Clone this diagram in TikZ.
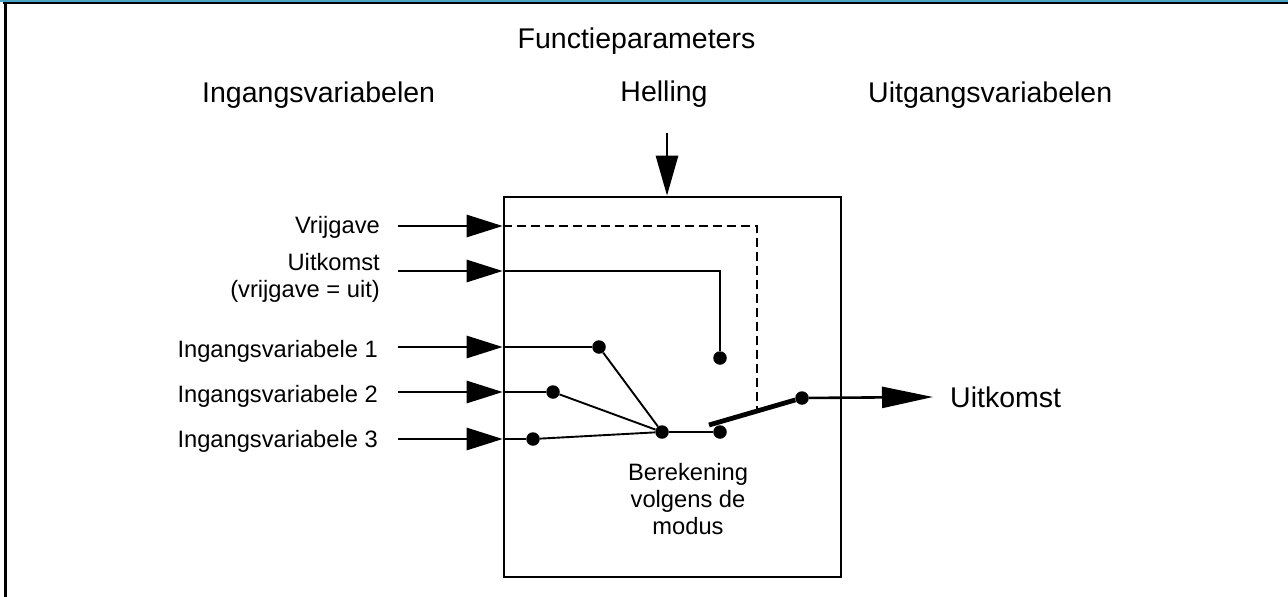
\documentclass[tikz,border=0pt]{standalone}
\usepackage{fontspec}
\setmainfont{Liberation Sans}
\usepackage{xcolor}
\usetikzlibrary{arrows.meta,positioning,calc}
\definecolor{kaderblauw}{RGB}{74,166,196}

\begin{document}
\begin{tikzpicture}[x=1pt,y=-1pt,
    kop/.style={font=\fontsize{28.5}{34}\selectfont, inner sep=0pt},
    lbl/.style={font=\fontsize{23.7}{27}\selectfont, inner sep=0pt},
    lijn/.style={line width=2.6pt},
    dun/.style={line width=1.9pt},
    pijl/.style={-{Triangle[length=36pt,width=22pt]}, line width=2.8pt},
    punt/.style={circle, fill=black, inner sep=0pt, minimum size=13.5pt}]
    \useasboundingbox (0,0) rectangle (1288,597);

    % kader rond de figuur
    \fill[kaderblauw] (0,0) rectangle (1288,2.4);
    \draw[line width=1.8pt] (3,3.3) -- (1288,3.3);
    \draw[line width=3pt] (5,3) -- (5,597);

    % koppen
    \node[kop, anchor=base] (fp) at (636.5,48) {Functieparameters};
    \node[kop, anchor=base] (hel) at (664,101) {Helling};
    \node[kop, anchor=base west] (inv) at (202,102) {Ingangsvariabelen};
    \node[kop, anchor=base west] (uitv) at (868,102) {Uitgangsvariabelen};

    % het blok
    \node[draw, line width=2.6pt, minimum width=337pt, minimum height=380pt, inner sep=0pt] (blok) at (672.5,387) {};
    \node[lbl, align=center, anchor=north] (ber) at (688,463) {Berekening\\volgens de\\modus};

    % helling
    \coordinate (hin) at (667,133);
    \draw[line width=2.8pt, -{Triangle[length=40pt,width=22pt]}] (hin) -- (hin |- blok.north);

    % ingangen
    \node[lbl, anchor=base east] (vrij) at (380,233) {Vrijgave};
    \node[lbl, anchor=north east, align=right] (uitk) at (380,253) {Uitkomst\\(vrijgave = uit)};
    \node[lbl, anchor=base east] (iv1) at (378,357) {Ingangsvariabele 1};
    \node[lbl, anchor=base east] (iv2) at (378,402) {Ingangsvariabele 2};
    \node[lbl, anchor=base east] (iv3) at (378,447) {Ingangsvariabele 3};

    \coordinate (s0) at (398,226);
    \coordinate (s2) at (398,271);
    \coordinate (s3) at (398,347);
    \coordinate (s4) at (398,392);
    \coordinate (s5) at (398,439);
    \foreach \s in {s0,s2,s3,s4,s5}
        \draw[pijl] (\s) -- (\s -| blok.west);

    % schakelpunten
    \node[punt] (d1) at (599,347) {};
    \node[punt] (d2) at (553,392) {};
    \node[punt] (d3) at (533,439) {};
    \node[punt] (knoop) at (662,432) {};
    \node[punt] (kontakt) at (720,432) {};
    \node[punt] (duit) at (720,358) {};
    \node[punt] (sw) at (802,398) {};
    \coordinate (swbegin) at (709,425);
    \coordinate (stuur) at (757,411);

    \draw[lijn] (s3 -| blok.west) -- (d1);
    \draw[lijn] (s4 -| blok.west) -- (d2);
    \draw[lijn] (s5 -| blok.west) -- (d3);
    \draw[dun] (d1) -- (knoop);
    \draw[dun] (d2) -- (knoop);
    \draw[dun] (d3) -- (knoop);
    \draw[lijn] (knoop) -- (kontakt);
    \draw[lijn] (s2 -| blok.west) -| (duit);
    \draw[lijn, dash pattern=on 9pt off 5pt] (s0 -| blok.west) -| (stuur);

    % schakelaar en uitgang
    \draw[line width=4.8pt] (swbegin) -- (sw);
    \node[kop, anchor=west] (uit) at (950,397) {Uitkomst};
    \draw[lijn, -{Triangle[length=51pt,width=21pt]}] (sw) -- ([xshift=-17pt]uit.west);
\end{tikzpicture}
\end{document}
